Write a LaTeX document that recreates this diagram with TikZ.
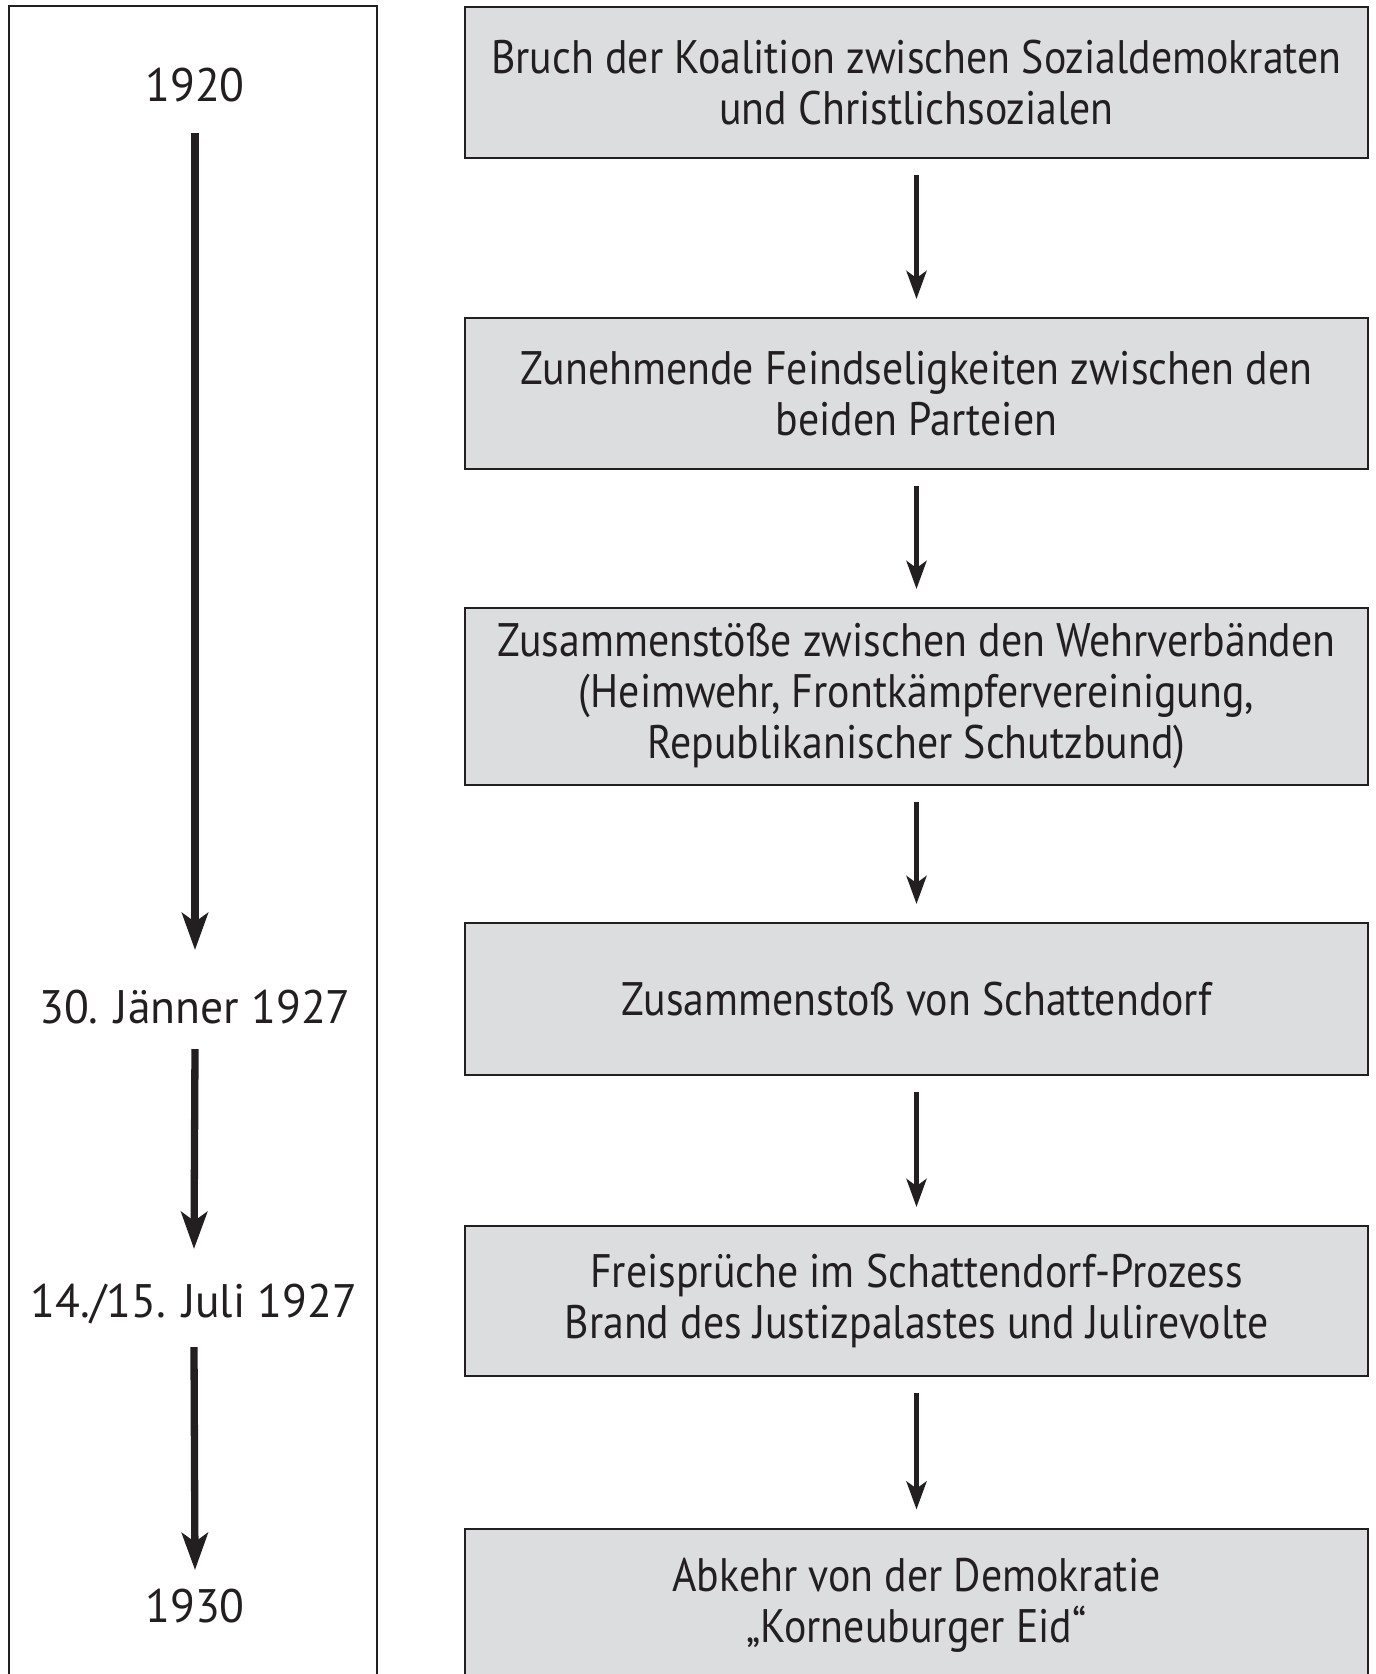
\documentclass[tikz,border=0pt]{standalone}
\usepackage{fontspec}
\setmainfont{PT Sans}
\newfontfamily\boxfont{PT Sans}[FakeStretch=0.89]
\newfontfamily\yearfont{PT Sans}[FakeStretch=0.97]
\usetikzlibrary{arrows.meta,positioning,calc}
\definecolor{inkblack}{RGB}{35,31,32}
\definecolor{boxgray}{RGB}{220,221,223}

\begin{document}
\begin{tikzpicture}[x=1pt,y=-1pt,
	eventbox/.style={draw=inkblack,line width=2.3pt,fill=boxgray,text=inkblack,minimum width=903pt,align=center,font=\boxfont\fontsize{47}{51}\selectfont},
	yearlabel/.style={text=inkblack,anchor=base,font=\yearfont\fontsize{47}{51}\selectfont},
	flowarrow/.style={draw=inkblack,line width=4.7pt,-{Stealth[length=28pt,width=20pt,inset=7pt]},shorten <=16pt,shorten >=18pt},
	timearrow/.style={draw=inkblack,line width=7.3pt,-{Stealth[length=37pt,width=26pt,inset=9pt]}}]
			\useasboundingbox (0,0) rectangle (1376,1674);
			\clip (0,0) rectangle (1376,1674);
			\draw[inkblack,line width=2.3pt] (9,1700) -- (9,6) -- (377,6) -- (377,1700);
			
			\node[yearlabel] (t1920) at (195,101) {1920};
			\node[yearlabel] (t1927a) at (195,1023) {30. Jänner 1927};
			\node[yearlabel] (t1927b) at (194,1317) {14./15. Juli 1927};
			\node[yearlabel] (t1930) at (195,1622) {1930};
			
			\node[eventbox,minimum height=150.7pt] (b1) at (916.5,82.5) {Bruch der Koalition zwischen Sozialdemokraten\\und Christlichsozialen};
			\node[eventbox,minimum height=150.7pt] (b2) at (916.5,393.5) {Zunehmende Feindseligkeiten zwischen den\\beiden Parteien};
			\node[eventbox,minimum height=176.7pt] (b3) at (916.5,696.5) {Zusammenstöße zwischen den Wehrverbänden\\(Heimwehr, Frontkämpfervereinigung,\\Republikanischer Schutzbund)};
			\node[eventbox,minimum height=151.7pt] (b4) at (916.5,999) {Zusammenstoß von Schattendorf};
			\node[eventbox,minimum height=149.7pt] (b5) at (916.5,1301) {Freisprüche im Schattendorf-Prozess\\Brand des Justizpalastes und Julirevolte};
			\node[eventbox,minimum height=152.7pt] (b6) at (916.5,1605) {Abkehr von der Demokratie\\„Korneuburger Eid“};
			
			\foreach \a/\b in {b1/b2,b2/b3,b3/b4,b4/b5,b5/b6} {\draw[flowarrow] (\a) -- (\b);}
			
			\draw[timearrow] ([yshift=-32pt]t1920.base) -- ([yshift=73pt]t1927a.base);
			\draw[timearrow] ([yshift=-26pt]t1927a.base) -- ([yshift=68pt]t1927b.base);
			\draw[timearrow] ([yshift=-30pt]t1927b.base) -- ([yshift=52pt]t1930.base);
		\end{tikzpicture}
\end{document}
